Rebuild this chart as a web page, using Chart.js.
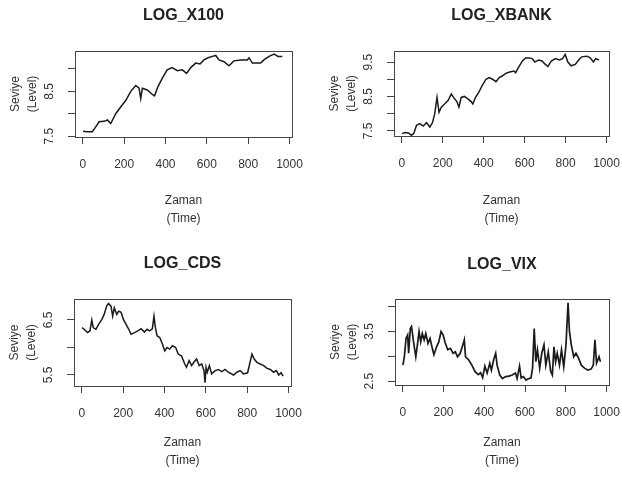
<!DOCTYPE html>
<html>
<head>
<meta charset="utf-8">
<script src="https://cdn.jsdelivr.net/npm/chart.js@4"></script>
<style>
  body { margin: 0; background: #fff; }
  .panel { position: absolute; width: 311px; height: 242px; }
</style>
</head>
<body>
<div class="panel" style="left:0;top:0"><canvas id="c1" width="311" height="242"></canvas></div>
<div class="panel" style="left:311px;top:0"><canvas id="c2" width="311" height="242"></canvas></div>
<div class="panel" style="left:0;top:242px"><canvas id="c3" width="311" height="242"></canvas></div>
<div class="panel" style="left:311px;top:242px"><canvas id="c4" width="311" height="242"></canvas></div>
<script>
const xTicks = [0, 200, 400, 600, 800, 1000];

// LOG_X100
const x100Zaman = [1, 20, 46, 63, 79, 103, 119, 135, 159, 183, 208, 232, 256, 272, 280, 288, 312, 336, 347, 363, 384, 408, 432, 457, 481, 502, 522, 546, 567, 586, 606, 627, 643, 659, 683, 707, 731, 763, 796, 804, 820, 860, 876, 901, 925, 944, 965];
const x100Seviye = [7.61, 7.6, 7.6, 7.71, 7.82, 7.83, 7.86, 7.78, 8.0, 8.15, 8.3, 8.5, 8.63, 8.57, 8.34, 8.57, 8.53, 8.43, 8.40, 8.60, 8.79, 8.98, 9.03, 8.96, 8.98, 8.90, 9.03, 9.13, 9.11, 9.20, 9.25, 9.28, 9.30, 9.20, 9.16, 9.07, 9.18, 9.20, 9.20, 9.25, 9.13, 9.13, 9.20, 9.28, 9.33, 9.28, 9.28];
const x100YTicks = [7.5, 8, 8.5, 9];
const x100YEtiket = ['7.5', '', '8.5', ''];

// LOG_XBANK
const xbankZaman = [1, 16, 32, 48, 59, 72, 88, 105, 121, 137, 150, 161, 172, 182, 193, 209, 226, 242, 258, 269, 279, 290, 306, 323, 339, 347, 360, 376, 392, 411, 427, 443, 460, 476, 492, 508, 527, 548, 556, 573, 589, 605, 621, 637, 650, 669, 685, 701, 714, 730, 750, 769, 785, 798, 811, 827, 847, 866, 879, 904, 920, 936, 947, 963];
const xbankSeviye = [7.42, 7.45, 7.44, 7.37, 7.43, 7.66, 7.71, 7.64, 7.74, 7.61, 7.74, 8.0, 8.47, 8.04, 8.19, 8.28, 8.38, 8.57, 8.43, 8.35, 8.19, 8.47, 8.50, 8.43, 8.35, 8.28, 8.47, 8.62, 8.81, 9.0, 9.05, 9.0, 8.93, 9.05, 9.10, 9.17, 9.21, 9.24, 9.19, 9.37, 9.53, 9.62, 9.62, 9.6, 9.5, 9.56, 9.53, 9.43, 9.37, 9.53, 9.6, 9.56, 9.6, 9.72, 9.5, 9.39, 9.43, 9.57, 9.65, 9.67, 9.62, 9.5, 9.6, 9.56];
const xbankYTicks = [7.5, 8, 8.5, 9, 9.5];
const xbankYEtiket = ['7.5', '', '8.5', '', '9.5'];

// LOG_CDS
const cdsZaman = [1, 11, 27, 39, 48, 55, 68, 81, 97, 108, 120, 129, 141, 149, 157, 169, 178, 190, 201, 214, 227, 238, 255, 271, 287, 303, 315, 328, 341, 349, 356, 364, 377, 390, 401, 412, 425, 438, 454, 466, 482, 498, 506, 519, 531, 542, 555, 568, 580, 591, 596, 601, 607, 617, 628, 645, 661, 677, 693, 709, 734, 750, 766, 782, 802, 812, 823, 834, 847, 863, 880, 896, 912, 928, 941, 953, 964, 974];
const cdsSeviye = [6.36, 6.33, 6.27, 6.30, 6.5, 6.36, 6.33, 6.42, 6.51, 6.60, 6.75, 6.80, 6.75, 6.57, 6.72, 6.60, 6.66, 6.64, 6.51, 6.42, 6.33, 6.24, 6.27, 6.30, 6.34, 6.28, 6.33, 6.30, 6.34, 6.57, 6.36, 6.21, 6.18, 6.06, 5.94, 6.0, 5.97, 6.03, 6.0, 5.88, 5.85, 5.70, 5.64, 5.76, 5.67, 5.73, 5.79, 5.67, 5.70, 5.58, 5.36, 5.64, 5.55, 5.67, 5.52, 5.58, 5.60, 5.56, 5.60, 5.55, 5.50, 5.55, 5.58, 5.52, 5.54, 5.70, 5.88, 5.79, 5.73, 5.70, 5.67, 5.62, 5.60, 5.55, 5.58, 5.50, 5.54, 5.48];
const cdsYTicks = [5.5, 6, 6.5];
const cdsYEtiket = ['5.5', '', '6.5'];

// LOG_VIX
const vixZaman = [1, 8, 16, 24, 29, 37, 43, 53, 64, 72, 80, 88, 96, 105, 113, 124, 134, 145, 153, 166, 177, 188, 198, 209, 221, 234, 247, 258, 269, 282, 295, 302, 308, 323, 339, 355, 371, 382, 392, 403, 414, 427, 435, 446, 456, 463, 476, 489, 505, 521, 537, 553, 561, 573, 581, 592, 605, 618, 629, 637, 645, 653, 661, 672, 682, 693, 702, 714, 726, 734, 742, 750, 758, 769, 779, 790, 801, 811, 818, 827, 839, 850, 863, 876, 892, 908, 924, 935, 943, 951, 963, 970];
const vixSeviye = [2.82, 2.99, 3.36, 3.43, 3.06, 3.56, 3.60, 3.29, 2.99, 3.23, 3.50, 3.29, 3.46, 3.33, 3.46, 3.26, 3.36, 3.16, 3.03, 3.19, 3.29, 3.50, 3.43, 3.26, 3.13, 3.16, 3.06, 3.09, 2.99, 3.06, 3.23, 3.33, 2.99, 2.93, 2.82, 2.69, 2.63, 2.67, 2.57, 2.80, 2.66, 2.86, 2.72, 2.93, 3.06, 2.82, 2.62, 2.55, 2.59, 2.60, 2.62, 2.66, 2.55, 2.80, 2.56, 2.59, 2.52, 2.55, 2.56, 2.76, 3.56, 2.89, 3.13, 2.76, 3.06, 3.23, 2.82, 3.09, 2.69, 2.62, 3.19, 2.89, 3.06, 2.82, 3.13, 2.79, 3.23, 4.08, 3.50, 3.23, 2.99, 3.06, 2.96, 2.82, 2.76, 2.72, 2.74, 2.82, 3.33, 2.86, 2.99, 2.89];
const vixYTicks = [2.5, 3, 3.5, 4];
const vixYEtiket = ['2.5', '', '3.5', ''];

Chart.defaults.font.family = "'Liberation Sans', Arial, sans-serif";

// okvir oko podrucja grafa (R box)
const okvir = {
    id: 'okvir',
    afterDraw(chart) {
        const a = chart.chartArea;
        const ctx = chart.ctx;
        ctx.save();
        ctx.strokeStyle = '#444';
        ctx.lineWidth = 1;
        ctx.strokeRect(Math.round(a.left) + 0.5, Math.round(a.top) + 0.5, Math.round(a.width), Math.round(a.height));
        ctx.restore();
    }
};

function nacrtaj(id, naslov, zaman, seviye, yMin, yMax, yTicks, yEtiket, poz, debljina){
    const ctx = document.getElementById(id);
    const data = zaman.map((t, i) => ({x: t, y: seviye[i]}));
    const grid = { drawOnChartArea: false, tickLength: 7, color: '#444', lineWidth: 1 };
    return new Chart(ctx, {
        type: 'line',
        data: {
            datasets: [{
                data: data,
                borderColor: '#1a1a1a',
                borderWidth: debljina,
                pointRadius: 0,
                tension: 0,
                fill: false
            }]
        },
        options: {
            responsive: false,
            animation: false,
            devicePixelRatio: 1,
            layout: { padding: { left: poz.left - 73, right: 311 - poz.right, top: 0, bottom: 0 } },
            plugins: {
                legend: { display: false },
                tooltip: { enabled: false },
                title: {
                    display: true,
                    text: naslov,
                    fullSize: false,
                    color: '#222',
                    font: { size: 16, weight: 'bold' },
                    padding: { top: poz.titleY - 9.6, bottom: poz.top - poz.titleY - 9.6 }
                }
            },
            scales: {
                x: {
                    type: 'linear',
                    min: -38,
                    max: 1012,
                    afterBuildTicks: s => { s.ticks = xTicks.map(v => ({value: v})); },
                    afterFit: s => { s.height = 242 - poz.bottom; },
                    grid: grid,
                    border: { display: false },
                    // mali padding da se ne suzi podrucje grafa, labelu spusta lineHeight
                    ticks: { autoSkip: false, maxRotation: 0, padding: 1, color: '#333', font: { size: 12, lineHeight: 3.35 }, callback: v => String(v) },
                    title: { display: true, text: ['Zaman', '(Time)'], color: '#333', font: { size: 12, lineHeight: 1.5 }, padding: { top: 0, bottom: 14 } }
                },
                y: {
                    min: yMin,
                    max: yMax,
                    afterBuildTicks: s => { s.ticks = yTicks.map(v => ({value: v})); },
                    afterFit: s => { s.width = 73; },
                    grid: grid,
                    border: { display: false },
                    ticks: { autoSkip: false, minRotation: 90, maxRotation: 90, padding: 18, labelOffset: -8.3, color: '#333', font: { size: 12 },
                        callback: (v, i) => yEtiket[i] },
                    title: { display: true, text: ['Seviye', '(Level)'], color: '#333', font: { size: 12, lineHeight: 1.35 }, padding: { top: 6, bottom: 0 } }
                }
            }
        },
        plugins: [okvir]
    });
}

nacrtaj('c1', 'LOG_X100', x100Zaman, x100Seviye, 7.48, 9.40, x100YTicks, x100YEtiket,
    { left: 75, right: 292, top: 51, bottom: 137, titleY: 16 }, 1.5);
nacrtaj('c2', 'LOG_XBANK', xbankZaman, xbankSeviye, 7.35, 9.82, xbankYTicks, xbankYEtiket,
    { left: 83, right: 298, top: 51, bottom: 136, titleY: 16 }, 1.5);
nacrtaj('c3', 'LOG_CDS', cdsZaman, cdsSeviye, 5.30, 6.88, cdsYTicks, cdsYEtiket,
    { left: 74, right: 291, top: 57, bottom: 144, titleY: 22 }, 1.5);
nacrtaj('c4', 'LOG_VIX', vixZaman, vixSeviye, 2.42, 4.155, vixYTicks, vixYEtiket,
    { left: 84, right: 298, top: 57, bottom: 143, titleY: 23 }, 1.7);
</script>
</body>
</html>
